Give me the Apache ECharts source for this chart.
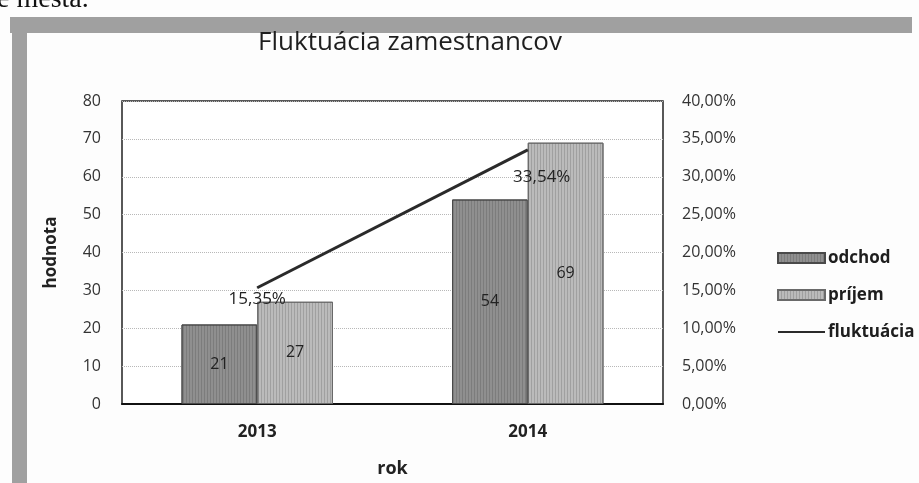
<!DOCTYPE html>
<html>
<head>
<meta charset="utf-8">
<script src="https://cdn.jsdelivr.net/npm/echarts@6/dist/echarts.min.js"></script>
<style>
  html, body { margin: 0; padding: 0; background: #fdfdfd; }
  #chart { width: 919px; height: 483px; }
</style>
</head>
<body>
<div id="chart"></div>
<script>
// data
var roky = ["2013", "2014"];
var odchod = [21, 54];
var prijem = [27, 69];
var fluktuacia = [0.1535, 0.3354];
var percentTicks = [0, 0.05, 0.1, 0.15, 0.2, 0.25, 0.3, 0.35, 0.4];

function pct(v) {
  return (v * 100).toFixed(2).replace(".", ",") + "%";
}

var font = "'Open Sans', 'Noto Sans', sans-serif";
var myChart = echarts.init(document.getElementById("chart"));

// vertical stripes like the scanned bar texture
var stripes = {
  symbol: "rect",
  symbolSize: 1,
  dashArrayX: [[1, 2]],
  dashArrayY: [1, 0],
  color: "rgba(40,40,40,0.18)"
};

// label offsets of the percent labels (2014 one sits lower in the picture)
var labelOffsets = [[0, 0], [14, 16]];

var option = {
  backgroundColor: "#fdfdfd",
  animation: false,
  textStyle: { fontFamily: font },
  title: {
    text: "Fluktuácia zamestnancov",
    left: 405,
    top: 25,
    textAlign: "center",
    textStyle: { fontFamily: font, fontSize: 26, fontWeight: "normal", color: "#1e1e1e" }
  },
  graphic: [
    // scanned frame around the chart
    { type: "rect", shape: { x: 10, y: 17, width: 902, height: 16 }, style: { fill: "#a0a0a0" } },
    { type: "rect", shape: { x: 12, y: 17, width: 15, height: 470 }, style: { fill: "#a0a0a0" } },
    { type: "text", left: -3, top: -14,
      style: { text: "e mesta.", font: "28px 'Liberation Serif', serif", fill: "#111" } }
  ],
  legend: {
    orient: "vertical",
    left: 772,
    top: 243,
    itemWidth: 47,
    itemHeight: 10,
    itemGap: 17,
    textStyle: { fontFamily: font, fontSize: 17, lineHeight: 20, fontWeight: "bold", color: "#1e1e1e", padding: [0, 0, 0, -2] },
    data: [
      { name: "odchod", icon: "rect" },
      { name: "príjem", icon: "rect" },
      { name: "fluktuácia", itemStyle: { opacity: 0 } }
    ]
  },
  grid: {
    left: 122,
    right: 256,
    top: 101,
    bottom: 66,
    show: true,
    borderColor: "#222",
    borderWidth: 1.5,
    backgroundColor: "#fff"
  },
  xAxis: {
    type: "category",
    data: roky,
    name: "rok",
    nameLocation: "middle",
    nameGap: 56,
    nameTextStyle: { fontSize: 18, fontWeight: "bold", color: "#222" },
    axisLine: { lineStyle: { color: "#111", width: 2 } },
    axisTick: { show: false },
    axisLabel: { margin: 20, fontSize: 17, fontWeight: "bold", color: "#222" }
  },
  yAxis: [
    {
      type: "value",
      min: 0,
      max: 80,
      interval: 10,
      name: "hodnota",
      nameLocation: "middle",
      nameGap: 62,
      nameTextStyle: { fontSize: 17, fontWeight: "bold", color: "#222" },
      axisLine: { show: false },
      axisLabel: { margin: 21, fontSize: 16, color: "#333" },
      splitLine: { lineStyle: { color: "#b8b8b8", type: "dotted" } }
    },
    {
      type: "value",
      min: 0,
      max: 0.4,
      interval: 0.05,
      position: "right",
      axisLine: { show: false },
      axisLabel: {
        margin: 19,
        fontSize: 16,
        color: "#333",
        formatter: function (v) { return pct(v); }
      },
      splitLine: { show: false }
    }
  ],
  series: [
    {
      name: "odchod",
      type: "bar",
      data: odchod,
      barGap: "0%",
      barCategoryGap: "44%",
      itemStyle: { color: "#8f8f8f", borderColor: "#4a4a4a", borderWidth: 1, decal: stripes },
      label: { show: true, position: "inside", fontSize: 16, color: "#222" }
    },
    {
      name: "príjem",
      type: "bar",
      data: prijem,
      itemStyle: { color: "#bbbbbb", borderColor: "#6a6a6a", borderWidth: 1, decal: stripes },
      label: { show: true, position: "inside", fontSize: 16, color: "#222" }
    },
    {
      name: "fluktuácia",
      type: "line",
      yAxisIndex: 1,
      data: fluktuacia.map(function (v, i) {
        return { value: v, label: { offset: labelOffsets[i] } };
      }),
      symbol: "circle",
      symbolSize: 1,
      lineStyle: { color: "#2a2a2a", width: 3 },
      itemStyle: { color: "#2a2a2a" },
      label: {
        show: true,
        position: "bottom",
        distance: 2,
        fontSize: 17,
        color: "#222",
        formatter: function (p) { return pct(p.value); }
      },
      z: 5
    }
  ]
};

myChart.setOption(option);
</script>
</body>
</html>
